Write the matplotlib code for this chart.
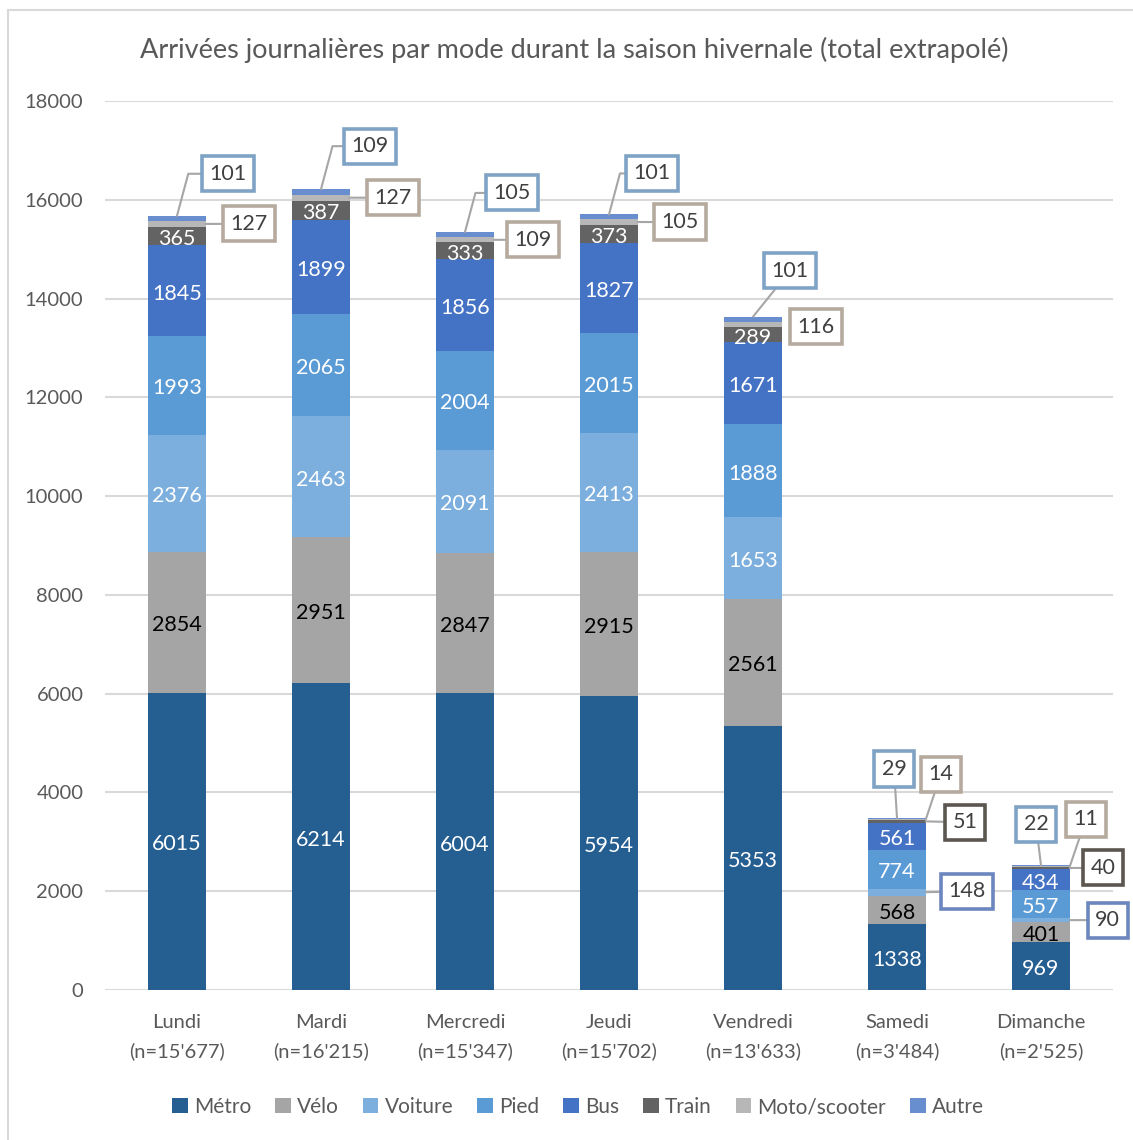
import matplotlib
matplotlib.use("Agg")
import matplotlib.pyplot as plt
import matplotlib.patches as patches
import numpy as np

plt.rcParams['font.family'] = ['Lato', 'DejaVu Sans']

# data
days = ["Lundi", "Mardi", "Mercredi", "Jeudi", "Vendredi", "Samedi", "Dimanche"]
totals = ["15'677", "16'215", "15'347", "15'702", "13'633", "3'484", "2'525"]
modes = ["Métro", "Vélo", "Voiture", "Pied", "Bus", "Train", "Moto/scooter", "Autre"]

metro = [6015, 6214, 6004, 5954, 5353, 1338, 969]
velo = [2854, 2951, 2847, 2915, 2561, 568, 401]
voiture = [2376, 2463, 2091, 2413, 1653, 148, 90]
pied = [1993, 2065, 2004, 2015, 1888, 774, 557]
bus = [1845, 1899, 1856, 1827, 1671, 561, 434]
train = [365, 387, 333, 373, 289, 51, 40]
moto = [127, 127, 109, 105, 116, 14, 11]
autre = [101, 109, 105, 101, 101, 29, 22]

series = [metro, velo, voiture, pied, bus, train, moto, autre]
colors = ["#255E91", "#A5A5A5", "#7CAFDD", "#5B9BD5", "#4472C4", "#636363", "#B7B7B7", "#698ED0"]
label_colors = ["white", "black", "white", "white", "white", "white", None, None]

# callouts: (day index, series index, dx px, dy px, anchor, connection)
callout_edge = {7: "#7FA3C5", 6: "#B5AA9D", 5: "#5C5650", 2: "#6C86BE"}
callouts = [
    (0, 7, 51, 42, "top", "angle"), (0, 6, 43, 0, "right", None),
    (1, 7, 49, 43, "top", "angle"), (1, 6, 43, 0, "right", None),
    (2, 7, 47, 39, "top", "angle"), (2, 6, 39, 0, "right", None),
    (3, 7, 43, 41, "top", "angle"), (3, 6, 42, 0, "right", None),
    (4, 7, 37, 46, "top", None), (4, 6, 34, -2, "none", None),
    (5, 7, -3, 49, "top", None), (5, 6, 15, 45, "corner", None),
    (5, 5, 39, -1, "right", None), (5, 2, 41, 1, "right", None),
    (6, 7, -5, 41, "top", None), (6, 6, 16, 47, "corner", None),
    (6, 5, 33, 0, "right", None), (6, 2, 38, 0, "right", None),
]
boxed = {(j, i) for (j, i, *_rest) in callouts}

fig = plt.figure(figsize=(11.33, 11.40), dpi=100)
ax = fig.add_axes([105/1133, 150/1140, 1008/1133, 889/1140])

x = np.arange(len(days))
w = 0.4
bottom = np.zeros(len(days))
bottoms = []
for i, s in enumerate(series):
    vals = np.array(s)
    ax.bar(x, vals, w, bottom=bottom, color=colors[i], label=modes[i], zorder=3)
    bottoms.append(bottom.copy())
    if label_colors[i]:
        for j in range(len(days)):
            if (j, i) in boxed:
                continue
            ax.annotate(str(vals[j]), xy=(x[j], bottom[j] + vals[j]/2), xytext=(0, -3),
                        textcoords='offset pixels', ha='center', va='center',
                        color=label_colors[i], fontsize=15.5, zorder=5)
    bottom = bottom + vals

for (j, i, dx, dy, anchor, conn) in callouts:
    val = series[i][j]
    top = bottoms[i][j] + val
    mid = bottoms[i][j] + val/2
    if anchor == "top":
        xy = (x[j], top)
    elif anchor == "corner":
        xy = (x[j] + w/2, top)
    else:
        xy = (x[j] + w/2, mid)
    if anchor == "none":
        arrow = None
    else:
        arrow = dict(arrowstyle='-', color='#A6A6A6', lw=1.5, shrinkA=0, shrinkB=0)
        if conn == "angle":
            arrow['connectionstyle'] = "angle,angleA=0,angleB=75,rad=0"
    ax.annotate(str(val), xy=xy, xytext=(dx, dy), textcoords='offset pixels',
                ha='center', va='center', fontsize=15.5, color='#404040',
                bbox=dict(boxstyle='square,pad=0.35', fc='white', ec=callout_edge[i], lw=2.6),
                arrowprops=arrow, zorder=6, annotation_clip=False)

ax.set_xlim(-0.5, len(days) - 0.5)
ax.set_ylim(0, 18000)
ax.set_yticks(np.arange(0, 18001, 2000))
ax.yaxis.grid(True, color='#D9D9D9', lw=1.5, zorder=0)
ax.set_axisbelow(True)
for sp in ax.spines.values():
    sp.set_visible(False)
ax.tick_params(axis='both', length=0, colors='#595959', labelsize=14.5)
ax.tick_params(axis='y', pad=15.5)
ax.tick_params(axis='x', pad=17.5)
ax.set_xticks(x)
ax.set_xticklabels([d + "\n(n=" + t + ")" for d, t in zip(days, totals)], linespacing=1.75)

fig.text(574/1133, 1 - 50/1140, "Arrivées journalières par mode durant la saison hivernale (total extrapolé)",
         ha='center', va='center', fontsize=19.5, color='#595959')

fig.legend(loc='center', bbox_to_anchor=(578/1133, 1 - 1107/1140), ncol=8, frameon=False,
           fontsize=15, handlelength=0.75, handleheight=0.75, handletextpad=0.3,
           columnspacing=1.15, labelcolor='#595959')

fig.patches.append(patches.Rectangle((8/1133, -0.05), 1.1, 1 - 10/1140 + 0.05, transform=fig.transFigure,
                                     fill=False, ec='#D9D9D9', lw=1.5))

fig.savefig("out.png", dpi=100)
